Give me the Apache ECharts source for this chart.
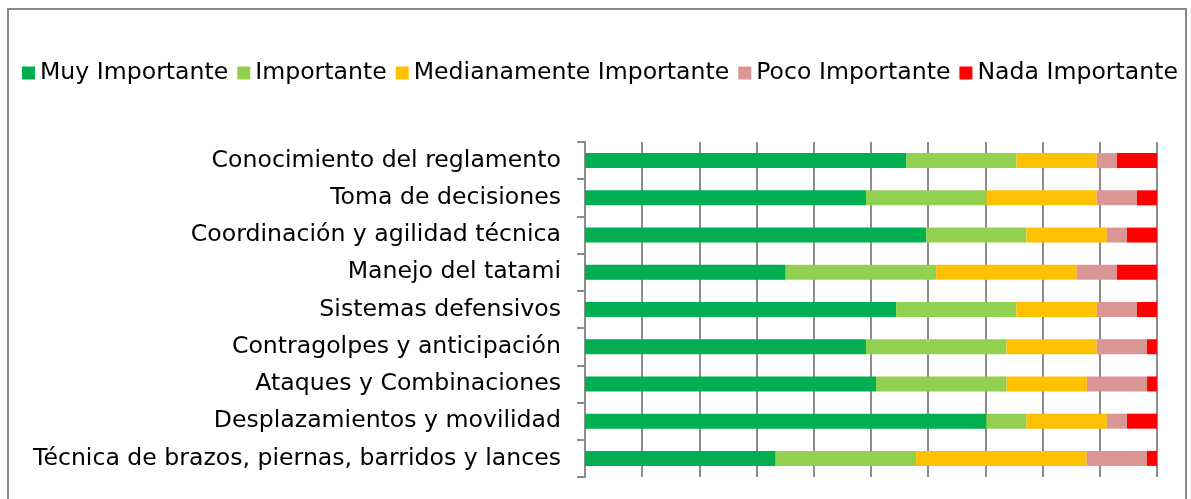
<!DOCTYPE html>
<html>
<head>
<meta charset="utf-8">
<script src="https://cdn.jsdelivr.net/npm/echarts@6/dist/echarts.min.js"></script>
<style>
html,body{margin:0;padding:0;background:#fff;}
#c{width:1191px;height:499px;}
</style>
</head>
<body>
<div id="c"></div>
<script>
var categories = [
  "Conocimiento del reglamento",
  "Toma de decisiones",
  "Coordinación y agilidad técnica",
  "Manejo del tatami",
  "Sistemas defensivos",
  "Contragolpes y anticipación",
  "Ataques y Combinaciones",
  "Desplazamientos y movilidad",
  "Técnica de brazos, piernas, barridos y lances"
];
var seriesNames = ["Muy Importante","Importante","Medianamente Importante","Poco Importante","Nada Importante"];
var muyImportante   = [56.14,49.12,59.65,35.09,54.39,49.12,50.88,70.18,33.33];
var importante      = [19.30,21.05,17.54,26.32,21.05,24.56,22.81,7.02,24.56];
var medianamente    = [14.04,19.30,14.04,24.56,14.04,15.79,14.04,14.04,29.82];
var pocoImportante  = [3.51,7.02,3.51,7.02,7.02,8.77,10.53,3.51,10.53];
var nadaImportante  = [7.02,3.51,5.26,7.02,3.51,1.75,1.75,5.26,1.75];

var colors = ["#00B050","#92D050","#FFC000","#D99694","#FF0000"];
var values = [muyImportante, importante, medianamente, pocoImportante, nadaImportante];

var font = "DejaVu Sans";
var chart = echarts.init(document.getElementById('c'), null, {renderer:'canvas'});
chart.setOption({
  animation:false,
  color: colors,
  graphic:[{
    type:'rect', shape:{x:8,y:9,width:1178,height:600},
    style:{fill:'none',stroke:'#8a8a8a',lineWidth:2}, silent:true, z:-1
  }],
  legend:{
    top:61, left:22, padding:0,
    itemWidth:13, itemHeight:13, itemGap:9,
    icon:'rect',
    textStyle:{fontFamily:font,fontSize:23.6,color:'#000'},
    data: seriesNames
  },
  grid:{left:585, top:142, width:572, height:335, containLabel:false},
  xAxis:{
    type:'value', min:0, max:100, interval:10,
    axisLine:{show:false}, axisTick:{show:false}, axisLabel:{show:false},
    splitLine:{show:true, lineStyle:{color:'#8c8c8c', width:2}}
  },
  yAxis:{
    type:'category', inverse:true, data:categories,
    axisLine:{show:true, lineStyle:{color:'#8c8c8c', width:2}},
    axisTick:{show:true, length:8, lineStyle:{color:'#8c8c8c', width:2}},
    axisLabel:{margin:24, color:'#000', fontFamily:font, fontSize:23.6}
  },
  series: seriesNames.map(function(n,i){
    return {
      name:n, type:'bar', stack:'total', barWidth:15,
      data: values[i], itemStyle:{color:colors[i]}
    };
  })
});
</script>
</body>
</html>
